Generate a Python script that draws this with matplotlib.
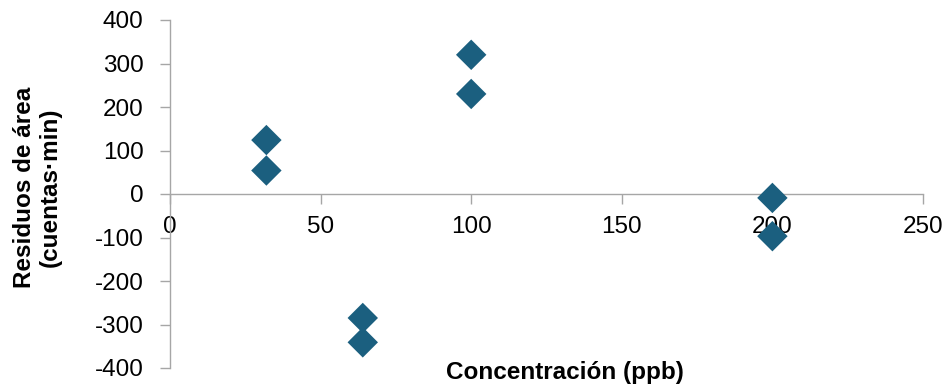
import matplotlib
matplotlib.use("Agg")
import matplotlib.pyplot as plt

# Residuals of peak area versus concentration
concentracion = [32, 32, 64, 64, 100, 100, 200, 200]
residuos = [124, 54, -285, -341, 320, 230, -9, -97]

x_ticks = [0, 50, 100, 150, 200, 250]
y_ticks = [-400, -300, -200, -100, 0, 100, 200, 300, 400]

plt.rcParams['font.family'] = ['Liberation Sans', 'DejaVu Sans']
plt.rcParams['axes.unicode_minus'] = False

fig = plt.figure(figsize=(9.49, 3.89), dpi=100)
ax = fig.add_axes([170 / 949, 1 - 368 / 389, (923 - 170) / 949, (368 - 20) / 389])

axis_color = '#A6A6A6'
ax.scatter(concentracion, residuos, marker='D', s=240, color='#1B5F7F',
           edgecolors='none', zorder=3, clip_on=False)

ax.set_xlim(0, 250)
ax.set_ylim(-400, 400)
ax.set_xticks(x_ticks)
ax.set_yticks(y_ticks)

ax.spines['top'].set_visible(False)
ax.spines['right'].set_visible(False)
ax.spines['bottom'].set_position(('data', 0))
for s in ('left', 'bottom'):
    ax.spines[s].set_color(axis_color)
    ax.spines[s].set_linewidth(1.0)

ax.tick_params(axis='both', colors=axis_color, length=7, width=1.0,
               labelcolor='black', labelsize=17.5)
ax.tick_params(axis='x', direction='out', pad=9)
ax.tick_params(axis='y', direction='out', pad=12)

fig.text(565 / 949, 1 - 372 / 389, 'Concentración (ppb)', ha='center', va='center',
         fontsize=17.5, fontweight='bold')
fig.text(37 / 949, 1 - 187 / 389, 'Residuos de área\n(cuentas·min)', ha='center',
         va='center', rotation=90, fontsize=17.5, fontweight='bold', linespacing=1.15)

fig.savefig('out.png', dpi=100)
